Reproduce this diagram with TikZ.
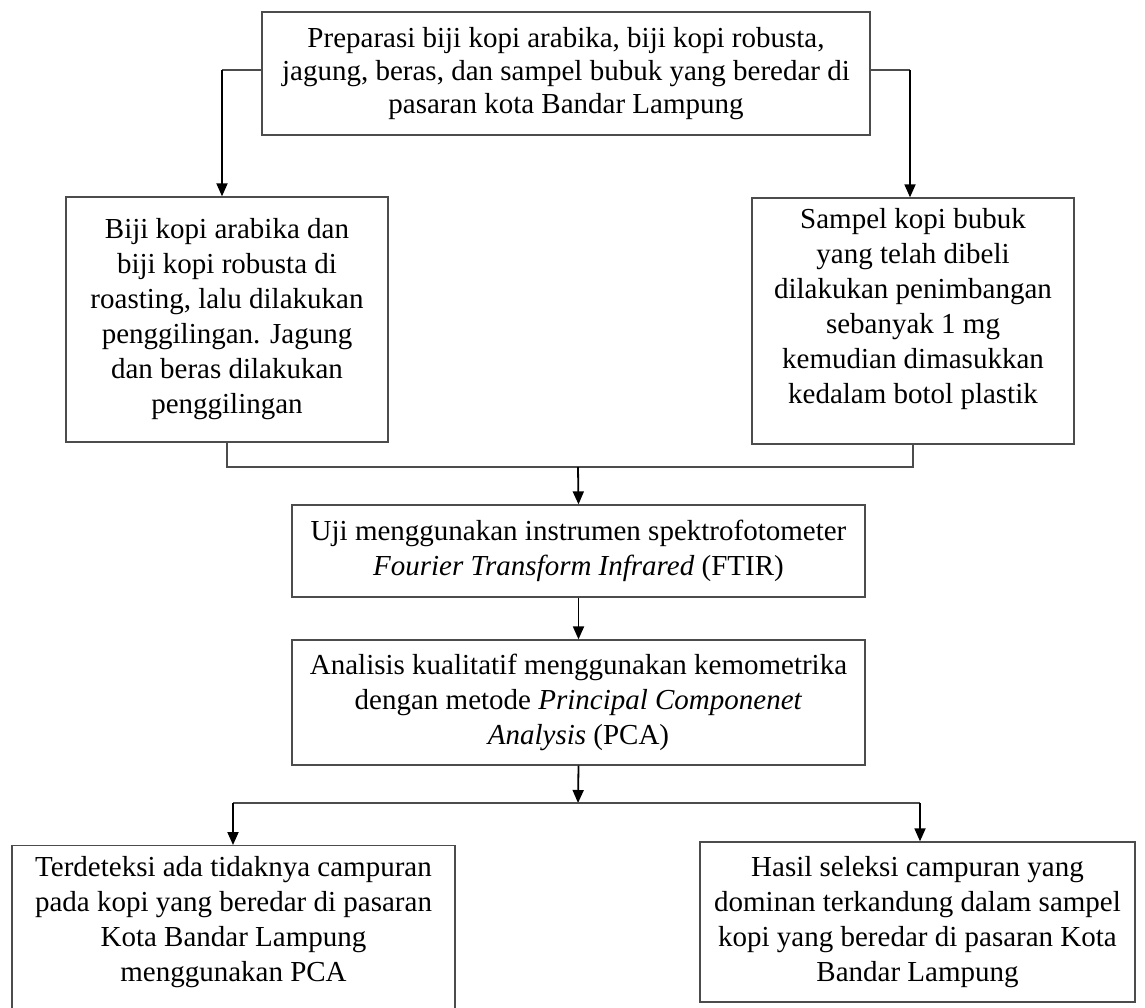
\documentclass[tikz,border=0pt]{standalone}
\usepackage{fontspec}
\setmainfont{Liberation Serif}
\usetikzlibrary{arrows.meta,calc}
\begin{document}
\begin{tikzpicture}[x=1pt,y=-1pt,
  box/.style={draw=black!70,line width=1.3pt,fill=white,align=center,inner sep=0pt,
    font=\fontsize{29}{35}\selectfont},
  conn/.style={draw=black!70,line width=1.3pt},
  arr/.style={draw=black,line width=1.8pt,-{Triangle[length=13pt,width=11pt]}}]
\useasboundingbox[fill=white] (0,0) rectangle (1145,1007);

\node[box,minimum width=608pt,minimum height=123pt,font=\fontsize{29}{33}\selectfont] (top) at (566,73.5)
  {Preparasi biji kopi arabika, biji kopi robusta,\\ jagung, beras, dan sampel bubuk yang beredar di\\ pasaran kota Bandar Lampung};

\node[box,minimum width=322pt,minimum height=245pt] (lbox) at (227,319.5)
  {Biji kopi arabika dan\\ biji kopi robusta di\\ roasting, lalu dilakukan\\ penggilingan. Jagung\\ dan beras dilakukan\\ penggilingan};

\node[box,minimum width=322pt,minimum height=246pt] (rbox) at (913,321) {};
\node[align=center,inner sep=0pt,font=\fontsize{29}{35}\selectfont] (rtext) at (913,309)
  {Sampel kopi bubuk\\ yang telah dibeli\\ dilakukan penimbangan\\ sebanyak 1 mg\\ kemudian dimasukkan\\ kedalam botol plastik};

\node[box,minimum width=573pt,minimum height=92pt] (ftir) at (578.5,551)
  {Uji menggunakan instrumen spektrofotometer\\ \textit{Fourier Transform Infrared} (FTIR)};

\node[box,minimum width=573pt,minimum height=125pt] (pca) at (578.5,702.5)
  {Analisis kualitatif menggunakan kemometrika\\ dengan metode \textit{Principal Componenet}\\ \textit{Analysis} (PCA)};

\node[box,minimum width=443pt,minimum height=176pt,anchor=north] (bl) at (233.5,845) {};
\node[align=center,inner sep=0pt,font=\fontsize{29}{35}\selectfont] (bltext) at (233.5,922)
  {Terdeteksi ada tidaknya campuran\\ pada kopi yang beredar di pasaran\\ Kota Bandar Lampung\\ menggunakan PCA};

\node[box,minimum width=435pt,minimum height=160pt] (br) at (917.5,922)
  {Hasil seleksi campuran yang\\ dominan terkandung dalam sampel\\ kopi yang beredar di pasaran Kota\\ Bandar Lampung};

\coordinate (tl) at (222,70);
\coordinate (tr) at (910,70);
\draw[conn] (top.west |- tl) -- (tl);
\draw[arr] (tl) -- (tl |- lbox.north);
\draw[conn] (top.east |- tr) -- (tr);
\draw[arr] (tr) -- (tr |- rbox.north);

\coordinate (m) at (578,467);
\draw[conn] (lbox.south) |- (m) -| (rbox.south);
\draw[arr] (m) -- (ftir.north);
\draw[arr] (ftir.south) -- (pca.north);

\coordinate (s) at (578,803);
\coordinate (sl) at (233,803);
\coordinate (sr) at (920,803);
\draw[arr] (pca.south) -- (s);
\draw[conn] (sl) -- (sr);
\draw[arr] (sl) -- (sl |- bl.north);
\draw[arr] (sr) -- (sr |- br.north);
\end{tikzpicture}
\end{document}
